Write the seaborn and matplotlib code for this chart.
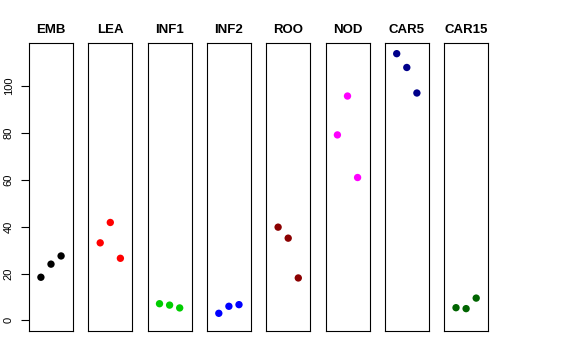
import numpy as np
import pandas as pd
import matplotlib
matplotlib.use("Agg")
import matplotlib.pyplot as plt
import seaborn as sns

# tissues and the three replicate values in each
tissues = ["EMB", "LEA", "INF1", "INF2", "ROO", "NOD", "CAR5", "CAR15"]
values = {
    "EMB": [18.4, 24.0, 27.5],
    "LEA": [33.1, 41.8, 26.5],
    "INF1": [7.1, 6.5, 5.3],
    "INF2": [3.0, 6.0, 6.7],
    "ROO": [39.8, 35.1, 18.1],
    "NOD": [79.2, 95.8, 61.0],
    "CAR5": [113.9, 108.0, 97.1],
    "CAR15": [5.4, 5.0, 9.5],
}
colors = ["#000000", "#FF0000", "#00CD00", "#0000FF", "#8B0000", "#FF00FF", "#00008B", "#006400"]
replicate = [1, 2, 3]
yticks = [0, 20, 40, 60, 80, 100]

df = pd.DataFrame([
    {"tissue": t, "rep": r, "value": v}
    for t in tissues for r, v in zip(replicate, values[t])
])

sns.set_style("white")
plt.rcParams["font.family"] = ["Liberation Sans", "DejaVu Sans"]
plt.rcParams["text.color"] = "black"

fig = plt.figure(figsize=(5.76, 3.6), dpi=100)
W, H = 576.0, 360.0
left0, step, width = 29, 59.3, 44
top, bottom = 43, 331

ymax = max(max(v) for v in values.values())
pad = 0.04 * ymax

for i, t in enumerate(tissues):
    ax = fig.add_axes([(left0 + i * step) / W, (H - bottom) / H, width / W, (bottom - top) / H])
    sub = df[df["tissue"] == t]
    sns.scatterplot(data=sub, x="rep", y="value", color=colors[i], s=28,
                    edgecolor="none", ax=ax, legend=False)
    ax.set_xlim(2 - 2.18, 2 + 2.18)
    ax.set_ylim(-pad, ymax + pad)
    ax.set_xlabel("")
    ax.set_ylabel("")
    ax.set_xticks([])
    for s in ax.spines.values():
        s.set_color("black")
        s.set_linewidth(0.8)
    ax.set_title(t, fontsize=9.5, fontweight="bold", pad=7, color="black")
    if i == 0:
        ax.set_yticks(yticks)
        ax.set_yticklabels([str(y) for y in yticks], rotation=90, va="center", fontsize=8)
        ax.tick_params(axis="y", left=True, length=6, width=0.8, pad=5,
                       color="black", labelcolor="black")
    else:
        ax.set_yticks([])

fig.savefig("out.png", dpi=100)
